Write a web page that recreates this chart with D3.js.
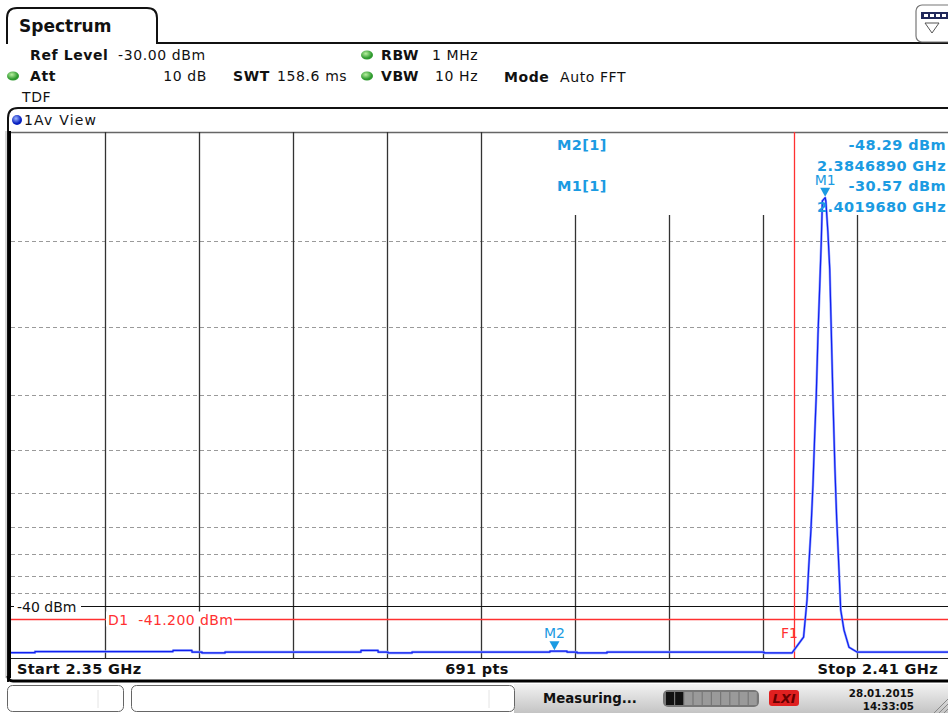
<!DOCTYPE html>
<html>
<head>
<meta charset="utf-8">
<script src="https://cdn.jsdelivr.net/npm/d3@7/dist/d3.min.js"></script>
<style>
  body { margin: 0; background: #fff; }
  svg { display: block; font-family: "DejaVu Sans", Verdana, sans-serif; }
</style>
</head>
<body>
<script>
// span and level grid
var startFreq = 2.35, stopFreq = 2.41;
var refLevel = -30;
var levelGrid = [-31, -32, -33, -34, -35, -36, -37, -38, -39];
var lowLine = -40;
var d1Level = -41.2;
var f1Freq = 2.4;

// trace: [GHz, dBm]
var trace = [
  [2.35, -49.2], [2.35153, -49.2], [2.35153, -48.5], [2.36034, -48.5], [2.36034, -47.9],
  [2.36155, -47.9], [2.36155, -48.8], [2.36219, -48.8], [2.36219, -49.4], [2.36366, -49.4],
  [2.36366, -48.8], [2.37234, -48.8], [2.37234, -47.9], [2.37343, -47.9], [2.37343, -48.8],
  [2.37406, -48.8], [2.37406, -49.4], [2.3756, -49.4], [2.3756, -48.8], [2.3844, -48.8],
  [2.3844, -48.3], [2.38549, -48.3], [2.38549, -48.8], [2.38613, -48.8], [2.38613, -49.4],
  [2.38804, -49.4], [2.38804, -48.8], [2.39806, -48.8], [2.39806, -49.4], [2.39985, -49.4],
  [2.40059, -43.8], [2.40081, -39.5], [2.40091, -37.7], [2.40106, -36.1], [2.40119, -34.8],
  [2.40129, -33.8], [2.4014, -33.0], [2.40151, -32.1], [2.40162, -31.5], [2.40172, -31.0],
  [2.40179, -30.6], [2.401968, -30.57], [2.40201, -30.6], [2.40214, -30.9], [2.40226, -31.3],
  [2.40234, -31.9], [2.40247, -33.1], [2.40259, -34.4], [2.4027, -35.7], [2.40285, -37.7],
  [2.40296, -40.3], [2.40317, -42.6], [2.40349, -46.5], [2.40381, -47.8], [2.404, -48.8],
  [2.41, -48.8]
];

var markers = [
  { name: "M1", freq: 2.401968, level: -30.57, freqText: "2.4019680 GHz" },
  { name: "M2", freq: 2.384689, level: -48.29, freqText: "2.3846890 GHz" }
];

var headerLeft = [
  ["Ref Level", "-30.00 dBm"],
  ["Att", "10 dB"]
];

var W = 948, H = 713;
var plotL = 11, plotR = 951, plotT = 132, plotB = 659;
var blue = "#1b9be2", red = "#ff3030";

function mw(dbm) { return Math.pow(10, (dbm - refLevel) / 10); }

var x = d3.scaleLinear().domain([startFreq, stopFreq]).range([plotL, plotR]);
var y = d3.scaleLinear().domain([0, mw(refLevel)]).range([plotB, plotT + 1]);

var svg = d3.select("body").append("svg").attr("width", W).attr("height", H);

var defs = svg.append("defs");
var gg = defs.append("radialGradient").attr("id", "green").attr("cx", "40%").attr("cy", "35%");
gg.append("stop").attr("offset", "0%").attr("stop-color", "#b8f0a0");
gg.append("stop").attr("offset", "100%").attr("stop-color", "#2f9a2f");
var bg = defs.append("radialGradient").attr("id", "bluedot").attr("cx", "40%").attr("cy", "35%");
bg.append("stop").attr("offset", "0%").attr("stop-color", "#9fb8ff");
bg.append("stop").attr("offset", "100%").attr("stop-color", "#0820c0");
var sg = defs.append("linearGradient").attr("id", "status").attr("x1", 0).attr("y1", 0).attr("x2", 0).attr("y2", 1);
sg.append("stop").attr("offset", "0%").attr("stop-color", "#f2f2f2");
sg.append("stop").attr("offset", "100%").attr("stop-color", "#c4c4c4");
defs.append("clipPath").attr("id", "plotclip").append("rect")
  .attr("x", plotL).attr("y", plotT).attr("width", plotR - plotL).attr("height", plotB - plotT);

// ---- tab + header
svg.append("path")
  .attr("d", "M7,44 L7,18 Q7,8 17,8 L147,8 Q157,8 157,18 L157,43 L948,43")
  .attr("fill", "none").attr("stroke", "#111").attr("stroke-width", 2);
svg.append("text").attr("x", 19).attr("y", 32).attr("font-size", 17).attr("font-weight", "bold")
  .attr("fill", "#111").text("Spectrum");

// top right icon
svg.append("rect").attr("x", 916).attr("y", 5).attr("width", 40).attr("height", 37).attr("rx", 6)
  .attr("fill", "#fff").attr("stroke", "#777").attr("stroke-width", 1.2);
svg.append("rect").attr("x", 921).attr("y", 12).attr("width", 27).attr("height", 7).attr("fill", "#20285a");
[924, 930, 936, 942].forEach(function (d) {
  svg.append("rect").attr("x", d).attr("y", 14).attr("width", 4).attr("height", 3).attr("fill", "#fff");
});
svg.append("path").attr("d", "M925,23 L939,23 L932,33 Z").attr("fill", "#fff").attr("stroke", "#555");

var hdr = svg.append("g").attr("font-size", 14).attr("letter-spacing", 0.6).attr("fill", "#111");
function dot(cx, cy, fill) {
  svg.append("ellipse").attr("cx", cx).attr("cy", cy).attr("rx", 6).attr("ry", 4.5).attr("fill", fill);
}
hdr.append("text").attr("x", 30).attr("y", 60).attr("font-weight", "bold").text(headerLeft[0][0]);
hdr.append("text").attr("x", 118).attr("y", 60).text(headerLeft[0][1]);
dot(13, 76, "url(#green)");
hdr.append("text").attr("x", 30).attr("y", 81).attr("font-weight", "bold").text(headerLeft[1][0]);
hdr.append("text").attr("x", 207).attr("y", 81).attr("text-anchor", "end").text(headerLeft[1][1]);
hdr.append("text").attr("x", 233).attr("y", 81).attr("font-weight", "bold").text("SWT");
hdr.append("text").attr("x", 277).attr("y", 81).text("158.6 ms");
dot(367, 55, "url(#green)");
hdr.append("text").attr("x", 381).attr("y", 60).attr("font-weight", "bold").text("RBW");
hdr.append("text").attr("x", 432).attr("y", 60).text("1 MHz");
dot(367, 76, "url(#green)");
hdr.append("text").attr("x", 381).attr("y", 81).attr("font-weight", "bold").text("VBW");
hdr.append("text").attr("x", 435).attr("y", 81).text("10 Hz");
hdr.append("text").attr("x", 504).attr("y", 82).attr("font-weight", "bold").text("Mode");
hdr.append("text").attr("x", 560).attr("y", 82).text("Auto FFT");
hdr.append("text").attr("x", 22).attr("y", 102).text("TDF");

// ---- view frame
svg.append("path")
  .attr("d", "M8,682 L8,118 Q8,108 18,108 L948,108")
  .attr("fill", "none").attr("stroke", "#111").attr("stroke-width", 2);
svg.append("line").attr("x1", 9.5).attr("x2", 9.5).attr("y1", 131).attr("y2", 678)
  .attr("stroke", "#000").attr("stroke-width", 3);
svg.append("line").attr("x1", 6).attr("x2", 6).attr("y1", 131).attr("y2", 678)
  .attr("stroke", "#aaa").attr("stroke-width", 1);
svg.append("circle").attr("cx", 17).attr("cy", 120).attr("r", 5).attr("fill", "url(#bluedot)");
svg.append("text").attr("x", 24).attr("y", 125).attr("font-size", 14).attr("letter-spacing", 1.2)
  .attr("fill", "#111").text("1Av View");
svg.append("line").attr("x1", plotL).attr("x2", W).attr("y1", plotT + 0.5).attr("y2", plotT + 0.5)
  .attr("stroke", "#666").attr("stroke-width", 1.5);

// ---- grid
var plot = svg.append("g").attr("clip-path", "url(#plotclip)");
plot.selectAll("line.hg").data(levelGrid).enter().append("line")
  .attr("x1", plotL).attr("x2", plotR)
  .attr("y1", function (d) { return Math.round(y(mw(d))) + 0.5; })
  .attr("y2", function (d) { return Math.round(y(mw(d))) + 0.5; })
  .attr("stroke", "#9a9a9a").attr("stroke-dasharray", "4,3");

var vgrid = d3.range(1, 10).map(function (i) { return startFreq + i * (stopFreq - startFreq) / 10; });
plot.selectAll("line.vg").data(vgrid).enter().append("line")
  .attr("x1", function (d) { return Math.round(x(d)) + 0.5; })
  .attr("x2", function (d) { return Math.round(x(d)) + 0.5; })
  .attr("y1", function (d) { return x(d) > 560 ? 215 : plotT; })
  .attr("y2", plotB)
  .attr("stroke", "#333").attr("stroke-width", 1.3);

// -40 dBm line
var y40 = Math.round(y(mw(lowLine))) + 0.5;
plot.append("line").attr("x1", plotL).attr("x2", plotR).attr("y1", y40).attr("y2", y40)
  .attr("stroke", "#111").attr("stroke-width", 1);
svg.append("rect").attr("x", 14).attr("y", y40 - 9).attr("width", 67).attr("height", 16).attr("fill", "#fff");
svg.append("text").attr("x", 17).attr("y", y40 + 5).attr("font-size", 14).attr("fill", "#111").text("-40 dBm");

// D1 line
var yd1 = Math.round(y(mw(d1Level))) + 0.5;
plot.append("line").attr("x1", plotL).attr("x2", plotR).attr("y1", yd1).attr("y2", yd1)
  .attr("stroke", red).attr("stroke-width", 1.3);
svg.append("rect").attr("x", 106).attr("y", yd1 - 8).attr("width", 128).attr("height", 15).attr("fill", "#fff");
svg.append("text").attr("x", 108).attr("y", yd1 + 5).attr("font-size", 14).attr("letter-spacing", 0.4)
  .attr("fill", red).attr("xml:space", "preserve").text("D1  -41.200 dBm");

// F1 line
var xf1 = Math.round(x(f1Freq)) + 0.5;
plot.append("line").attr("x1", xf1).attr("x2", xf1).attr("y1", plotT).attr("y2", plotB)
  .attr("stroke", red).attr("stroke-width", 1.3);
svg.append("text").attr("x", 781).attr("y", 638).attr("font-size", 14)
  .attr("fill", red).text("F1");

// trace
var line = d3.line().x(function (d) { return x(d[0]); }).y(function (d) { return y(mw(d[1])); });
plot.append("path").datum(trace).attr("d", line).attr("fill", "none")
  .attr("stroke", "#8fa0ff").attr("stroke-width", 2.4).attr("stroke-linejoin", "round");
plot.append("path").datum(trace).attr("d", line).attr("fill", "none")
  .attr("stroke", "#1020f0").attr("stroke-width", 1.2).attr("stroke-linejoin", "round");

// markers on trace
markers.forEach(function (m) {
  var mx = x(m.freq), my = y(mw(m.level));
  svg.append("path").attr("d", "M" + (mx - 5) + "," + (my - 10) + " L" + (mx + 5) + "," + (my - 10) +
    " L" + mx + "," + (my - 1) + " Z").attr("fill", blue);
  svg.append("text").attr("x", mx).attr("y", my - 13).attr("text-anchor", "middle")
    .attr("font-size", 14).attr("fill", blue).text(m.name);
});

// marker readouts
var mt = svg.append("g").attr("font-size", 14.5).attr("letter-spacing", 0.4)
  .attr("font-weight", "bold").attr("fill", blue);
[markers[1], markers[0]].forEach(function (m, i) {
  var yy = 150 + i * 41;
  mt.append("text").attr("x", 557).attr("y", yy).text(m.name + "[1]");
  mt.append("text").attr("x", 946).attr("y", yy).attr("text-anchor", "end").text(m.level.toFixed(2) + " dBm");
  mt.append("text").attr("x", 946).attr("y", yy + 21).attr("text-anchor", "end").text(m.freqText);
});

// plot bottom and labels
svg.append("line").attr("x1", plotL).attr("x2", W).attr("y1", plotB - 0.5).attr("y2", plotB - 0.5)
  .attr("stroke", "#222").attr("stroke-width", 1.2);
var bl = svg.append("g").attr("font-size", 14.5).attr("letter-spacing", 0.35)
  .attr("font-weight", "bold").attr("fill", "#111");
bl.append("text").attr("x", 17).attr("y", 674).text("Start " + startFreq + " GHz");
bl.append("text").attr("x", 477).attr("y", 674).attr("text-anchor", "middle").text("691 pts");
bl.append("text").attr("x", 938).attr("y", 674).attr("text-anchor", "end").text("Stop " + stopFreq + " GHz");
svg.append("path").attr("d", "M8,676 Q8,681 13,681 L948,681").attr("fill", "none")
  .attr("stroke", "#000").attr("stroke-width", 3);

// ---- status bar
svg.append("rect").attr("x", 514).attr("y", 684).attr("width", W - 514).attr("height", H - 684)
  .attr("fill", "url(#status)");
svg.append("rect").attr("x", 7.5).attr("y", 685.5).attr("width", 116).attr("height", 26).attr("rx", 5)
  .attr("fill", "#fff").attr("stroke", "#666");
svg.append("rect").attr("x", 131.5).attr("y", 685.5).attr("width", 383).attr("height", 26).attr("rx", 5)
  .attr("fill", "#fff").attr("stroke", "#666");
svg.append("line").attr("x1", 98).attr("x2", 98).attr("y1", 690).attr("y2", 708).attr("stroke", "#e4e4e4");
svg.append("line").attr("x1", 489).attr("x2", 489).attr("y1", 690).attr("y2", 708).attr("stroke", "#e4e4e4");
svg.append("text").attr("x", 543).attr("y", 703).attr("font-size", 13.3).attr("font-weight", "bold")
  .attr("fill", "#111").text("Measuring...");
svg.append("rect").attr("x", 663).attr("y", 690).attr("width", 96).attr("height", 17).attr("rx", 5).attr("fill", "#777");
d3.range(10).forEach(function (i) {
  svg.append("rect").attr("x", 666 + i * 9.2).attr("y", 692).attr("width", 8).attr("height", 13)
    .attr("fill", i < 2 ? "#111" : "#9a9a9a");
});
svg.append("rect").attr("x", 769).attr("y", 690).attr("width", 30).attr("height", 16).attr("rx", 3).attr("fill", "#e02020");
svg.append("text").attr("x", 784).attr("y", 703).attr("text-anchor", "middle").attr("font-size", 13)
  .attr("font-weight", "bold").attr("font-style", "italic").attr("fill", "#600").text("LXI");
var dt = svg.append("g").attr("font-size", 10.3).attr("font-weight", "bold").attr("fill", "#111").attr("text-anchor", "end");
dt.append("text").attr("x", 914).attr("y", 697).text("28.01.2015");
dt.append("text").attr("x", 914).attr("y", 710).text("14:33:05");
[0, 5, 10].forEach(function (o) {
  svg.append("line").attr("x1", 934 + o).attr("y1", 713).attr("x2", 948).attr("y2", 699 + o)
    .attr("stroke", "#888");
});
</script>
</body>
</html>
